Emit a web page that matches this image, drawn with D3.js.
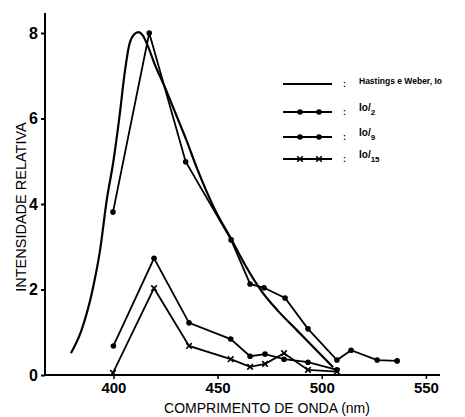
<!DOCTYPE html>
<html><head><meta charset="utf-8">
<script src="https://cdn.jsdelivr.net/npm/d3@7"></script>
<style>body{margin:0;background:#fff}svg{display:block}</style>
</head><body>
<svg id="c" width="465" height="417"></svg>
<script>
// Data (wavelength nm, relative intensity)
const hastingsX = [379.6,384.7,389.9,393.6,396.8,400,402.7,405.6,407.5,409.8,412,414,416.5,420,425,430,435,440,448.8,456.8,463.5,471,479,488,497,505.5];
const hastingsY = [0.51,1.05,1.97,2.92,4.09,5.0,5.96,7.13,7.7,7.96,8.02,7.95,7.7,7.25,6.7,6.1,5.5,4.85,3.86,3.16,2.55,1.97,1.5,1.05,0.6,0.18];
const io2X = [399.8,417.2,434.7,456.5,465.6,472.3,482.4,493.4,507.3,514.1,526.6,536.2];
const io2Y = [3.81,8.0,4.99,3.16,2.13,2.04,1.80,1.08,0.35,0.58,0.35,0.33];
const io9X = [400,419.5,436.3,456.3,465.6,472.8,481.9,493.4,507.3];
const io9Y = [0.68,2.73,1.22,0.84,0.44,0.49,0.37,0.30,0.12];
const io15X = [399.8,419.5,436.3,456.3,465.6,472.8,481.9,493.4,507.3];
const io15Y = [0.05,2.03,0.68,0.37,0.19,0.26,0.51,0.12,0.08];
const xTicks = [400,450,500,550];
const yTicks = [0,2,4,6,8];

const svg = d3.select("#c");
const x = d3.scaleLinear().domain([400,550]).range([113.4,425.9]);
const y = d3.scaleLinear().domain([0,8]).range([375,33]);
const font = "'Liberation Sans', Arial, sans-serif";

// axes
const xAxis = d3.axisBottom(x).tickValues(xTicks).tickSize(4).tickPadding(3);
const gx = svg.append("g").attr("transform","translate(0,375)").call(xAxis);
gx.select(".domain").remove();
gx.selectAll(".tick line").attr("stroke","#000").attr("stroke-width",1.5);
gx.selectAll("text").attr("font-family",font).attr("font-size",15).attr("fill","#000").attr("font-weight","bold");
svg.append("line").attr("x1",45).attr("x2",440).attr("y1",375).attr("y2",375).attr("stroke","#000").attr("stroke-width",2);

const yAxis = d3.axisLeft(y).tickValues(yTicks).tickSize(4).tickPadding(3);
const gy = svg.append("g").attr("transform","translate(45,0)").call(yAxis);
gy.select(".domain").remove();
gy.selectAll(".tick line").attr("stroke","#000").attr("stroke-width",2);
gy.selectAll("text").attr("font-family",font).attr("font-size",16).attr("fill","#000").attr("font-weight","bold");
svg.append("line").attr("x1",45).attr("x2",45).attr("y1",13).attr("y2",376).attr("stroke","#000").attr("stroke-width",2);

// axis titles
svg.append("text").attr("transform","translate(26,207) rotate(-90)").attr("text-anchor","middle")
  .attr("font-family",font).attr("font-size",14.5).text("INTENSIDADE RELATIVA");
svg.append("text").attr("x",267).attr("y",413).attr("text-anchor","middle")
  .attr("font-family",font).attr("font-size",14).text("COMPRIMENTO DE ONDA (nm)");

// lines
const zip = (xs,ys)=>xs.map((v,i)=>[v,ys[i]]);
const smooth = d3.line().x(d=>x(d[0])).y(d=>y(d[1])).curve(d3.curveMonotoneX);
const straight = d3.line().x(d=>x(d[0])).y(d=>y(d[1]));

svg.append("path").attr("d",smooth(zip(hastingsX,hastingsY))).attr("fill","none").attr("stroke","#000").attr("stroke-width",2.2);

function series(xs,ys,marker){
  const d = zip(xs,ys);
  svg.append("path").attr("d",straight(d)).attr("fill","none").attr("stroke","#000").attr("stroke-width",1.8);
  drawMarkers(d.map(p=>[x(p[0]),y(p[1])]),marker);
}
function drawMarkers(pts,marker){
  if(marker==="dot"){
    svg.append("g").selectAll("circle").data(pts).join("circle")
      .attr("cx",p=>p[0]).attr("cy",p=>p[1]).attr("r",2.8).attr("fill","#000");
  } else {
    svg.append("g").selectAll("path").data(pts).join("path")
      .attr("transform",p=>`translate(${p[0]},${p[1]})`)
      .attr("d",d3.symbol(d3.symbolX,22)()).attr("stroke","#000").attr("stroke-width",1.6).attr("fill","none");
  }
}
series(io2X,io2Y,"dot");
series(io9X,io9Y,"dot");
series(io15X,io15Y,"x");

// legend
const legRows = [
  {y:84, marker:null, label:"Hastings e Weber, Io", sub:null},
  {y:112, marker:"dot", label:"Io/", sub:"2"},
  {y:137, marker:"dot", label:"Io/", sub:"9"},
  {y:159, marker:"x", label:"Io/", sub:"15"}
];
legRows.forEach(r=>{
  svg.append("line").attr("x1",283).attr("x2",332).attr("y1",r.y).attr("y2",r.y).attr("stroke","#000").attr("stroke-width",r.marker?1.8:2);
  if(r.marker) drawMarkers([[300,r.y],[319,r.y]],r.marker);
  svg.append("text").attr("x",343).attr("y",r.y+3).attr("font-family",font).attr("font-size",9).attr("font-weight","bold").text(":");
  const t = svg.append("text").attr("x",359).attr("y",r.y+ (r.sub?-1:0)).attr("font-family",font).attr("font-weight","bold")
    .attr("font-size",r.sub?10:8.5);
  t.append("tspan").text(r.label);
  if(r.sub) t.append("tspan").attr("dy",4).attr("font-size",8).text(r.sub);
});
</script>
</body></html>
